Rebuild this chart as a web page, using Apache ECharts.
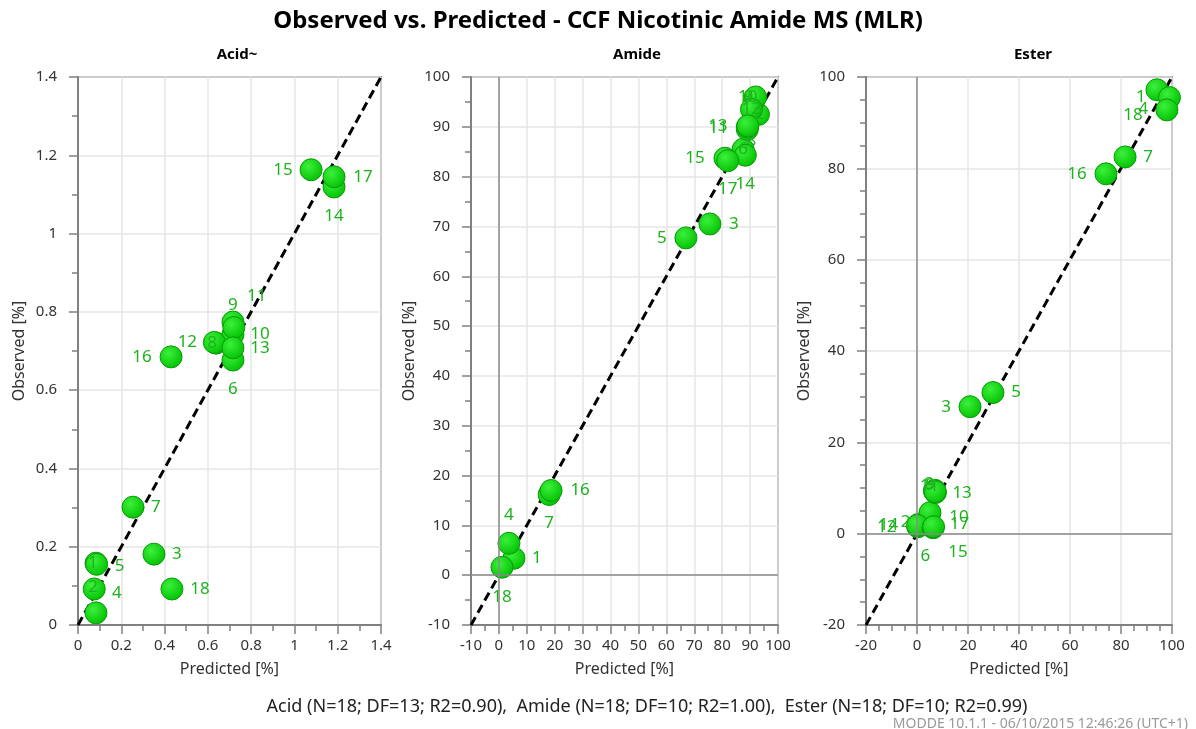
<!DOCTYPE html>
<html>
<head>
<meta charset="utf-8">
<script src="https://cdn.jsdelivr.net/npm/echarts@6/dist/echarts.min.js"></script>
<style>
  html, body { margin: 0; padding: 0; background: #fff; }
  #chart { width: 1196px; height: 729px; }
</style>
</head>
<body>
<div id="chart"></div>
<script>
// observation numbers 1..18
const obsIds = [1, 2, 3, 4, 5, 6, 7, 8, 9, 10, 11, 12, 13, 14, 15, 16, 17, 18]

// Acid~
const acidPred = [0.083, 0.075, 0.351, 0.083, 0.086, 0.716, 0.254, 0.638, 0.716, 0.716, 0.720, 0.630, 0.716, 1.183, 1.077, 0.430, 1.183, 0.434]
const acidObs = [0.158, 0.092, 0.181, 0.031, 0.155, 0.677, 0.301, 0.720, 0.774, 0.742, 0.760, 0.722, 0.708, 1.119, 1.163, 0.685, 1.145, 0.092]

// Amide
const amidePred = [5.4, 93, 75.6, 3.6, 67, 87.5, 18, 89, 91.5, 92, 89, 90.5, 89.2, 88.3, 81, 18.7, 82, 1.1]
const amideObs = [3.4, 92.5, 70.5, 6.4, 67.7, 85.5, 16.2, 89.5, 95.5, 96, 90, 93.5, 90.2, 84.3, 83.7, 17, 83.2, 1.6]

// Ester
const esterPred = [94.1, 3, 20.8, 99, 29.8, 0.5, 81.6, 7, 6.8, 5.1, 7.2, 0.3, 7.1, 0.2, 6.3, 74.1, 6.5, 98]
const esterObs = [97.2, 2.5, 27.8, 95.5, 30.9, 2, 82.5, 9.5, 9.4, 4.6, 9, 1.5, 9.2, 1.8, 1.3, 78.8, 1.5, 92.8]

// axis ranges [min, max, interval]
const acidRange = [0, 1.4, 0.2]
const amideRange = [-10, 100, 10]
const esterRange = [-20, 100, 20]

const panelTitles = ['Acid~', 'Amide', 'Ester']
const footerText = 'Acid (N=18; DF=13; R2=0.90),  Amide (N=18; DF=10; R2=1.00),  Ester (N=18; DF=10; R2=0.99)'
const stampText = 'MODDE 10.1.1 - 06/10/2015 12:46:26 (UTC+1)'

// label nudges (px from the point centre), per panel, keyed by obs number
const acidNudge = {1: [-3, 0], 2: [-1, -2], 3: [23, 0], 4: [21, -20], 5: [23, 2], 6: [0, 29], 7: [23, 0], 8: [-4, 0], 9: [0, -17],
  10: [27, 0], 11: [23, -31], 12: [-27, 0], 13: [27, 0], 14: [0, 29], 15: [-28, 0], 16: [-29, 0], 17: [29, 0], 18: [28, 0]}
const amideNudge = {1: [23, 0], 2: [0, 0], 3: [24, 0], 4: [0, -28], 5: [-24, 0], 6: [0, 0], 7: [0, 29], 8: [4, 12], 9: [-6, -2],
  10: [-8, 0], 11: [-29, 1], 12: [0, 0], 13: [-30, 0], 14: [0, 29], 15: [-30, 0], 16: [29, 0], 17: [0, 28], 18: [0, 30]}
const esterNudge = {1: [-16, 7], 2: [-19, 0], 3: [-24, 0], 4: [-26, 12], 5: [23, 0], 6: [7, 32], 7: [23, 0], 8: [-6, -6], 9: [-4, -6],
  10: [29, 4], 11: [-6, -6], 12: [-31, 0], 13: [27, 2], 14: [-29, 0], 15: [25, 24], 16: [-29, 0], 17: [26, -3], 18: [-34, 5]}

const grids = [
  {left: 78, top: 77, width: 303, height: 548},
  {left: 471, top: 77, width: 307, height: 548},
  {left: 866, top: 77, width: 306, height: 548}
]

const axisGray = '#808080'
const font = '"Noto Sans", "Open Sans", sans-serif'

function makeAxis (range, idx, minorSplit, isY) {
  return {
    type: 'value',
    gridIndex: idx,
    min: range[0],
    max: range[1],
    interval: range[2],
    name: isY ? 'Observed [%]' : 'Predicted [%]',
    nameLocation: 'middle',
    nameGap: isY ? (idx === 0 ? 51 : 54) : 36,
    nameTextStyle: {color: '#333', fontSize: 16, fontFamily: font},
    axisLine: {show: true, onZero: false, lineStyle: {color: axisGray, width: 2}},
    axisTick: {show: true, length: 9, lineStyle: {color: axisGray, width: 1.5}},
    minorTick: {show: true, splitNumber: minorSplit, length: 6, lineStyle: {color: axisGray, width: 1.5}},
    axisLabel: {color: '#333', fontSize: 15, fontFamily: font, margin: isY ? 21 : 13},
    splitLine: {show: true, lineStyle: {color: '#e6e6e6', width: 1.5}}
  }
}

function scatterData (pred, obs) {
  return obsIds.map((id, i) => ({
    value: [pred[i], obs[i]],
    name: String(id)
  }))
}

const dotColor = new echarts.graphic.RadialGradient(0.38, 0.35, 0.7, [
  {offset: 0, color: '#3cf03c'},
  {offset: 1, color: '#00c000'}
])

function panelSeries (idx, range, pred, obs, nudge, zeroLines) {
  const list = []
  if (zeroLines) {
    list.push({
      type: 'line',
      xAxisIndex: idx,
      yAxisIndex: idx,
      data: [],
      silent: true,
      markLine: {
        silent: true,
        symbol: 'none',
        label: {show: false},
        lineStyle: {color: '#8a8a8a', type: 'solid', width: 1.5},
        data: [{xAxis: 0}, {yAxis: 0}]
      }
    })
  }
  // y = x reference line
  list.push({
    type: 'line',
    xAxisIndex: idx,
    yAxisIndex: idx,
    data: [[range[0], range[0]], [range[1], range[1]]],
    symbol: 'none',
    silent: true,
    lineStyle: {color: '#000', width: 3, type: [9, 5]},
    z: 3
  })
  list.push({
    type: 'scatter',
    xAxisIndex: idx,
    yAxisIndex: idx,
    data: scatterData(pred, obs),
    symbolSize: 22,
    itemStyle: {color: dotColor, borderColor: '#089a08', borderWidth: 1, opacity: 1},
    label: {
      show: true,
      position: 'inside',
      formatter: '{b}',
      color: '#1fb21f',
      fontSize: 17,
      fontFamily: font
    },
    labelLayout: function (params) {
      const n = nudge[obsIds[params.dataIndex]] || [0, 0]
      return {dx: n[0], dy: n[1], hideOverlap: false}
    },
    z: 4
  })
  return list
}

const chart = echarts.init(document.getElementById('chart'))

chart.setOption({
  animation: false,
  title: [
    {text: 'Observed vs. Predicted - CCF Nicotinic Amide MS (MLR)', left: 'center', top: 4,
      textStyle: {fontSize: 24, fontWeight: 'bold', color: '#000', fontFamily: font}},
    {text: panelTitles[0], left: 232, top: 42, textAlign: 'center',
      textStyle: {fontSize: 15, fontWeight: 'bold', color: '#000', fontFamily: font}},
    {text: panelTitles[1], left: 632, top: 42, textAlign: 'center',
      textStyle: {fontSize: 15, fontWeight: 'bold', color: '#000', fontFamily: font}},
    {text: panelTitles[2], left: 1028, top: 42, textAlign: 'center',
      textStyle: {fontSize: 15, fontWeight: 'bold', color: '#000', fontFamily: font}},
    {text: footerText, left: 642, top: 693, textAlign: 'center',
      textStyle: {fontSize: 18, fontWeight: 'normal', color: '#222', fontFamily: font}},
    {text: stampText, right: 3, top: 712,
      textStyle: {fontSize: 14, fontWeight: 'normal', color: '#9a9a9a', fontFamily: font}}
  ],
  grid: grids.map(g => Object.assign({show: true, borderColor: axisGray, borderWidth: 2, backgroundColor: 'transparent'}, g)),
  xAxis: [
    makeAxis(acidRange, 0, 2, false),
    makeAxis(amideRange, 1, 2, false),
    makeAxis(esterRange, 2, 4, false)
  ],
  yAxis: [
    makeAxis(acidRange, 0, 2, true),
    makeAxis(amideRange, 1, 2, true),
    makeAxis(esterRange, 2, 4, true)
  ],
  series: [].concat(
    panelSeries(0, acidRange, acidPred, acidObs, acidNudge, false),
    panelSeries(1, amideRange, amidePred, amideObs, amideNudge, true),
    panelSeries(2, esterRange, esterPred, esterObs, esterNudge, true)
  )
})
</script>
</body>
</html>
